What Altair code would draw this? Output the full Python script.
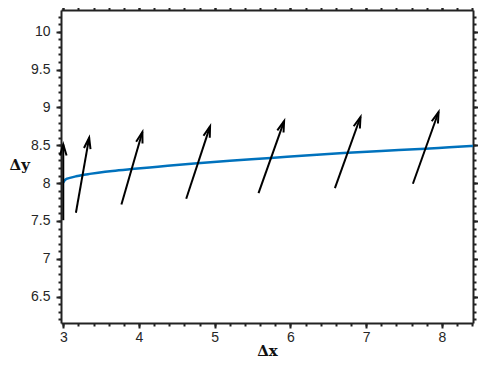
import math
import altair as alt
import pandas as pd

# ---- data ----
curve_x = [3.0, 3.01, 3.02, 3.05, 3.1, 3.17, 3.24, 3.35, 3.46, 3.65, 3.9, 4.25,
           4.73, 5.2, 5.74, 6.2, 6.7, 7.2, 7.78, 8.1, 8.505]
curve_y = [8.005, 8.025, 8.04, 8.058, 8.073, 8.09, 8.105, 8.122, 8.137, 8.16, 8.185, 8.217,
           8.26, 8.296, 8.332, 8.365, 8.397, 8.425, 8.455, 8.474, 8.497]

arrow_x0 = [3.0, 3.167, 3.768, 4.624, 5.579, 6.588, 7.618]
arrow_y0 = [7.51, 7.608, 7.718, 7.794, 7.868, 7.934, 7.992]
arrow_x1 = [3.0, 3.342, 4.045, 4.939, 5.917, 6.926, 7.957]
arrow_y1 = [8.51, 8.60, 8.675, 8.75, 8.82, 8.873, 8.939]

x_major = [3, 4, 5, 6, 7, 8]
x_minor = [round(3.0 + 0.2 * i, 1) for i in range(28)]
y_major = [6.5, 7, 7.5, 8, 8.5, 9, 9.5, 10]
y_minor = [round(6.2 + 0.1 * i, 1) for i in range(41)]

X_DOMAIN = [2.97, 8.412]
Y_DOMAIN = [6.152, 10.287]
W, H = 412, 313

FRAME = "#222222"
LABEL = "#262626"
BLUE = "#0072BD"

curve_df = pd.DataFrame({"x": curve_x, "y": curve_y})

px_x = W / (X_DOMAIN[1] - X_DOMAIN[0])
px_y = H / (Y_DOMAIN[1] - Y_DOMAIN[0])
angles = [math.degrees(math.atan2((b - a) * px_x, (d - c) * px_y))
          for a, b, c, d in zip(arrow_x0, arrow_x1, arrow_y0, arrow_y1)]
arrow_df = pd.DataFrame({"x0": arrow_x0, "y0": arrow_y0, "x1": arrow_x1,
                         "y1": arrow_y1, "ang": angles})

xs = alt.Scale(domain=X_DOMAIN, nice=False, zero=False)
ys = alt.Scale(domain=Y_DOMAIN, nice=False, zero=False)


def ax(orient, values, size, labels, domain, **kw):
    return alt.Axis(orient=orient, values=values, tickSize=size, labels=labels,
                    domain=domain, domainColor=FRAME, domainWidth=2, grid=False,
                    ticks=True, tickColor=FRAME, tickWidth=2, labelFont="Liberation Sans",
                    labelFontSize=14, labelColor=LABEL, format="~g", **kw)


title_style = dict(titleFont="DejaVu Serif", titleFontWeight="bold", titleFontSize=15,
                   titleColor="#111111")

line = alt.Chart(curve_df).mark_line(color=BLUE, strokeWidth=2.5, interpolate="monotone",
                                     clip=True).encode(
    x=alt.X("x:Q", scale=xs, title="Δx",
            axis=ax("bottom", x_major, 5, True, True, labelPadding=2,
                    titleX=W / 2, titleY=32, titleAlign="center",
                    titleBaseline="alphabetic", **title_style)),
    y=alt.Y("y:Q", scale=ys, title="Δy",
            axis=ax("left", y_major, 5, True, True, labelPadding=6, titleAngle=0,
                    titleX=-52, titleY=159, titleAlign="left",
                    titleBaseline="alphabetic", **title_style)),
)

shafts = alt.Chart(arrow_df).mark_rule(color="black", strokeWidth=2).encode(
    x=alt.X("x0:Q", scale=xs, title="", axis=ax("bottom", x_minor, 3, False, False)),
    y=alt.Y("y0:Q", scale=ys, title="", axis=ax("left", y_minor, 3, False, False)),
    x2="x1:Q",
    y2="y1:Q",
)

HEAD = "M-0.3,1L0,0L0.3,1"
heads = alt.Chart(arrow_df).mark_point(shape=HEAD, size=484, filled=False, color="black",
                                       strokeWidth=2, opacity=1).encode(
    x=alt.X("x1:Q", scale=xs, title="", axis=ax("top", x_major, 5, False, True)),
    y=alt.Y("y1:Q", scale=ys, title="", axis=ax("right", y_major, 5, False, True)),
    angle=alt.Angle("ang:Q", scale=None),
)

ghost = alt.Chart(curve_df).mark_point(opacity=0).encode(
    x=alt.X("x:Q", scale=xs, title="", axis=ax("top", x_minor, 3, False, False)),
    y=alt.Y("y:Q", scale=ys, title="", axis=ax("right", y_minor, 3, False, False)),
)

chart = alt.layer(line, shafts, heads, ghost).resolve_axis(
    x="independent", y="independent"
).properties(
    width=W, height=H,
    autosize=alt.AutoSizeParams(type="none"),
    padding={"left": 53, "top": 2, "right": 5, "bottom": 36},
).configure_view(strokeWidth=0)

chart.save("out.html", embed_options={"renderer": "svg", "actions": False})
